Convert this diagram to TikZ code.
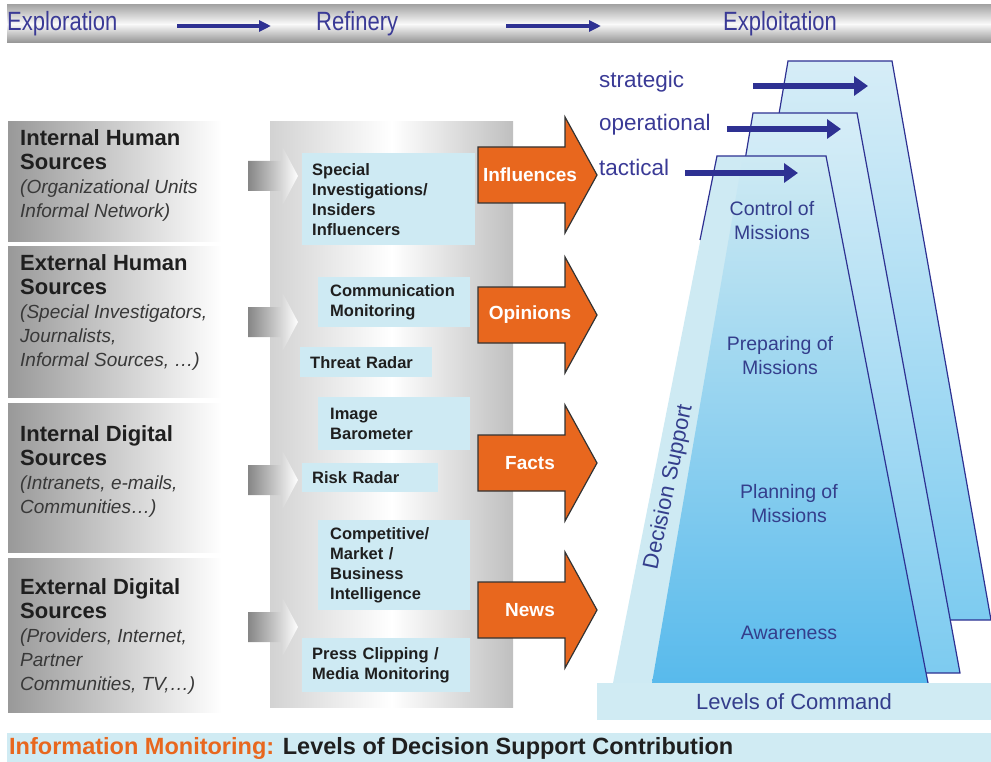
\documentclass[tikz,border=0pt]{standalone}
\usepackage{fontspec}
\setmainfont{Liberation Sans}
\usetikzlibrary{arrows.meta}

\definecolor{stageblue}{RGB}{58,58,150}
\definecolor{navy}{RGB}{46,49,146}
\definecolor{inkblue}{RGB}{52,62,140}
\definecolor{toolblue}{RGB}{206,234,243}
\definecolor{barblue}{RGB}{208,235,243}
\definecolor{fireorange}{RGB}{232,103,30}
\definecolor{skytop}{RGB}{214,237,247}
\definecolor{skymid}{RGB}{125,203,240}
\definecolor{skybot}{RGB}{88,186,236}

\newcommand{\srchead}[1]{{\bfseries #1}}
\newcommand{\srcsub}[1]{{\itshape\fontsize{19}{24}\selectfont\color{black!78}#1}}
\newcommand{\tallword}[1]{\scalebox{1}[1.2]{#1}}

\begin{document}
\begin{tikzpicture}[x=1pt, y=-1pt,
    stage/.style={anchor=west, inner sep=0, text=stageblue,
        font=\fontsize{22}{22}\selectfont},
    flow/.style={draw=navy, line width=4, -{Triangle[length=12pt, width=11pt]}},
    srctext/.style={anchor=north west, align=left, inner sep=0,
        text=black!88, font=\fontsize{22}{24}\selectfont},
    toolbox/.style={rectangle, fill=toolblue, anchor=north west, align=left,
        inner ysep=0, text=black!88,
        font=\fontsize{16.5}{20}\selectfont\bfseries},
    bigarrow/.style={fill=fireorange, draw=black!80, line width=1.2, line join=miter},
    bigword/.style={text=white, inner sep=0,
        font=\fontsize{19}{19}\selectfont\bfseries},
    trapline/.style={draw=navy, line width=1.2, line join=miter},
    levelword/.style={anchor=west, inner sep=0, text=stageblue,
        font=\fontsize{22.5}{22.5}\selectfont},
    levelarrow/.style={draw=navy, line width=6, -{Triangle[length=14pt, width=19pt]}},
    mission/.style={align=center, inner sep=0, text=inkblue,
        font=\fontsize{19.5}{24}\selectfont}]

    \useasboundingbox (0,0) rectangle (991,762);

    % top bar
    \shade[top color=gray!70, bottom color=gray!85, middle color=gray!4]
        (7,5) rectangle (991,43);
    \node[stage] (explo) at (7,24) {\tallword{Exploration}};
    \node[stage] (refin) at (316,24) {\tallword{Refinery}};
    \node[stage] (exploit) at (723,24) {\tallword{Exploitation}};
    \coordinate (flowa-s) at (177,26);
    \coordinate (flowa-e) at (271,26);
    \coordinate (flowb-s) at (506,26);
    \coordinate (flowb-e) at (601,26);
    \draw[flow] (flowa-s) -- (flowa-e);
    \draw[flow] (flowb-s) -- (flowb-e);

    % sources
    \foreach \top/\bot in {122/242, 247/397, 403/552, 558/712}
        \shade[left color=gray!80, right color=white] (8,\top) rectangle (222,\bot);

    \node[srctext] (inthum) at (20,129)
        {\srchead{Internal Human}\\\srchead{Sources}\\
         \srcsub{(Organizational Units}\\\srcsub{Informal Network)}};
    \node[srctext] (exthum) at (20,254)
        {\srchead{External Human}\\\srchead{Sources}\\
         \srcsub{(Special Investigators,}\\\srcsub{Journalists,}\\
         \srcsub{Informal Sources, \dots)}};
    \node[srctext] (intdig) at (20,425)
        {\srchead{Internal Digital}\\\srchead{Sources}\\
         \srcsub{(Intranets, e-mails,}\\\srcsub{Communities\dots)}};
    \node[srctext] (extdig) at (20,578)
        {\srchead{External Digital}\\\srchead{Sources}\\
         \srcsub{(Providers, Internet,}\\\srcsub{Partner}\\
         \srcsub{Communities, TV,\dots)}};

    % refinery panel
    \shade[left color=gray!35, right color=gray!50, middle color=white]
        (270,122) rectangle (513,707);

    \foreach \c in {176,322,480,627}
        \shade[left color=gray!95, right color=white]
            (248,\c-15) -- (281,\c-15) -- (281,\c-32) -- (298,\c)
            -- (281,\c+32) -- (281,\c+15) -- (248,\c+15) -- cycle;

    \node[toolbox, inner xsep=10, text width=153pt, minimum height=92pt]
        (special) at (302,153) {Special\\Investigations/\\Insiders\\Influencers};
    \node[toolbox, inner xsep=12, text width=128pt, minimum height=50pt]
        (commu) at (318,277) {Communication\\Monitoring};
    \node[toolbox, inner xsep=10, text width=112pt, minimum height=30pt]
        (threat) at (300,347) {Threat Radar};
    \node[toolbox, inner xsep=12, text width=128pt, minimum height=53pt]
        (image) at (318,397) {Image\\Barometer};
    \node[toolbox, inner xsep=10, text width=116pt, minimum height=29pt]
        (risk) at (302,463) {Risk Radar};
    \node[toolbox, inner xsep=12, text width=128pt, minimum height=90pt]
        (compet) at (318,520) {Competitive/\\Market /\\Business\\Intelligence};
    \node[toolbox, inner xsep=10, text width=148pt, minimum height=54pt]
        (press) at (302,638) {Press Clipping /\\Media Monitoring};

    % outputs
    \foreach \c/\word/\nm in {175/Influences/infl, 315/Opinions/opin,
                              463/Facts/fact, 610/News/news} {
        \draw[bigarrow] (478,\c-28) -- (565,\c-28) -- (565,\c-58) -- (597,\c)
            -- (565,\c+58) -- (565,\c+28) -- (478,\c+28) -- cycle;
        \node[bigword] (\nm) at (530,\c) {\word};
    }

    % levels of command
    \shade[top color=skytop, bottom color=skymid, trapline]
        (788,61) -- (892,61) -- (991,620) -- (693,620) -- cycle;
    \shade[top color=skytop, bottom color=skymid, trapline]
        (753,113) -- (857,113) -- (960,673) -- (658,673) -- cycle;
    \fill[toolblue] (717,156) -- (826,156) -- (928,683) -- (613,683) -- cycle;
    \shade[top color=toolblue, bottom color=skybot]
        (743,156) -- (826,156) -- (928,683) -- (652,683) -- cycle;
    \draw[trapline] (700,240) -- (717,156) -- (826,156) -- (928,683);

    \node[levelword] (strat) at (599,82) {strategic};
    \node[levelword] (operat) at (599,125) {operational};
    \node[levelword] (tact) at (599,167) {tactical};
    \coordinate (strat-s) at (753,86);
    \coordinate (strat-e) at (868,86);
    \coordinate (operat-s) at (727,129);
    \coordinate (operat-e) at (841,129);
    \coordinate (tact-s) at (685,173);
    \coordinate (tact-e) at (798,173);
    \draw[levelarrow] (strat-s) -- (strat-e);
    \draw[levelarrow] (operat-s) -- (operat-e);
    \draw[levelarrow] (tact-s) -- (tact-e);

    \node[mission] (control) at (772,221) {Control of\\Missions};
    \node[mission] (prepare) at (780,356) {Preparing of\\Missions};
    \node[mission] (planning) at (789,504) {Planning of\\Missions};
    \node[mission] (aware) at (789,633) {Awareness};
    \node[rotate=78, inner sep=0, text=inkblue, font=\fontsize{22}{22}\selectfont]
        (decsup) at (669,487) {Decision Support};

    \fill[barblue] (597,683) rectangle (991,720);
    \node[inner sep=0, text=inkblue, font=\fontsize{22}{22}\selectfont]
        (levels) at (794,702) {Levels of Command};

    % footer
    \fill[barblue] (7,733) rectangle (991,762);
    \node[anchor=west, inner sep=0, text=black!88, font=\fontsize{23.5}{23.5}\selectfont\bfseries]
        (infomon) at (9,748)
        {\textcolor{fireorange}{Information Monitoring:} Levels of Decision Support Contribution};
\end{tikzpicture}
\end{document}
